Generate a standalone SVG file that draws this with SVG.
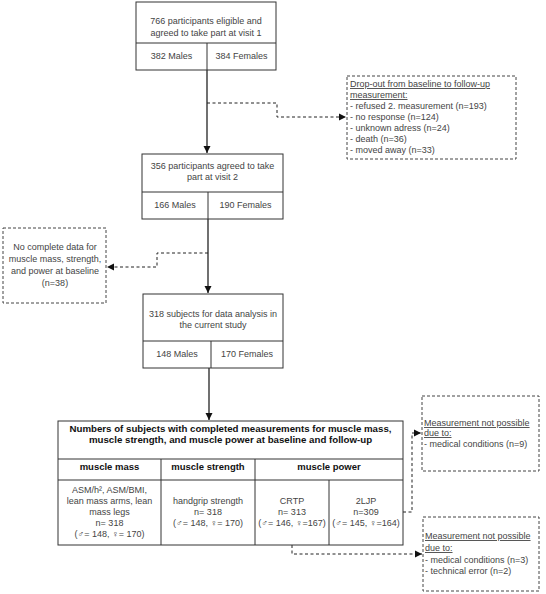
<svg xmlns="http://www.w3.org/2000/svg" width="546" height="594" viewBox="0 0 546 594">
<defs>
<marker id="ah" markerWidth="8" markerHeight="8" refX="7" refY="4" orient="auto" markerUnits="userSpaceOnUse">
<path d="M0,0.5 L7,4 L0,7.5 Z" fill="#111"/>
</marker>
<style>
.box{fill:#fff;stroke:#333;stroke-width:1}
.dbox{fill:#fff;stroke:#444;stroke-width:1;stroke-dasharray:3,2}
.ln{stroke:#333;stroke-width:1;fill:none}
.con{stroke:#111;stroke-width:1.2;fill:none}
.dcon{stroke:#222;stroke-width:1;fill:none;stroke-dasharray:3,2.5}
text{font-family:"Liberation Sans",Arial,sans-serif;font-size:9px;fill:#444}
.c{text-anchor:middle}
.b{font-weight:bold;fill:#111}
.h{font-size:9.7px}
.s{font-size:9.5px}
.u{text-decoration:underline}
</style>
</defs>
<rect width="546" height="594" fill="#fff"/>

<g id="connectors">
<line class="con" x1="207" y1="70" x2="207" y2="153" marker-end="url(#ah)"/>
<polyline class="dcon" points="207,103 277,103 277,117 346,117" marker-end="url(#ah)"/>
<line class="con" x1="208" y1="219" x2="208" y2="293" marker-end="url(#ah)"/>
<polyline class="dcon" points="208,253 157,253 157,267 107,267" marker-end="url(#ah)"/>
<line class="con" x1="209" y1="368" x2="209" y2="420" marker-end="url(#ah)"/>
<polyline class="dcon" points="403,512 412,512 412,433 421,433" marker-end="url(#ah)"/>
<polyline class="dcon" points="292,545 292,554 422,554" marker-end="url(#ah)"/>
</g>

<g id="visit1">
<rect class="box" x="136" y="2" width="140" height="68"/>
<line class="ln" x1="136" y1="43" x2="276" y2="43"/>
<line class="ln" x1="207" y1="43" x2="207" y2="70"/>
<text class="c" x="206" y="23.5">766 participants eligible and</text>
<text class="c" x="206" y="35.5">agreed to take part at visit 1</text>
<text class="c" x="171.5" y="58.5">382 Males</text>
<text class="c" x="241.5" y="58.5">384 Females</text>
</g>

<g id="dropout">
<rect class="dbox" x="347" y="76" width="169" height="83"/>
<text class="u" x="350" y="87">Drop-out from baseline to follow-up</text>
<text class="u" x="350" y="98">measurement:</text>
<text x="350" y="109">- refused 2. measurement (n=193)</text>
<text x="350" y="120">- no response (n=124)</text>
<text x="350" y="131">- unknown adress (n=24)</text>
<text x="350" y="142">- death (n=36)</text>
<text x="350" y="153">- moved away (n=33)</text>
</g>

<g id="visit2">
<rect class="box" x="142" y="154" width="141" height="65"/>
<line class="ln" x1="142" y1="192" x2="283" y2="192"/>
<line class="ln" x1="208" y1="192" x2="208" y2="219"/>
<text class="c" x="212.5" y="168.5">356 participants agreed to take</text>
<text class="c" x="212.5" y="179.5">part at visit 2</text>
<text class="c" x="175" y="207.5">166 Males</text>
<text class="c" x="245.5" y="207.5">190 Females</text>
</g>

<g id="nodata">
<rect class="dbox" x="3" y="228" width="103" height="75"/>
<text class="c" x="55" y="250">No complete data for</text>
<text class="c" x="55" y="262">muscle mass, strength,</text>
<text class="c" x="55" y="274">and power at baseline</text>
<text class="c" x="55" y="286">(n=38)</text>
</g>

<g id="analysis">
<rect class="box" x="143" y="294" width="140" height="74"/>
<line class="ln" x1="143" y1="341" x2="283" y2="341"/>
<line class="ln" x1="211" y1="341" x2="211" y2="368"/>
<text class="c" x="213" y="316.5">318 subjects for data analysis in</text>
<text class="c" x="213" y="327.5">the current study</text>
<text class="c" x="177" y="356.5">148 Males</text>
<text class="c" x="247" y="356.5">170 Females</text>
</g>

<g id="measurements">
<rect class="box" x="58" y="421" width="345" height="124"/>
<line class="ln" x1="58" y1="459" x2="403" y2="459"/>
<line class="ln" x1="58" y1="480" x2="403" y2="480"/>
<line class="ln" x1="161" y1="459" x2="161" y2="545"/>
<line class="ln" x1="255" y1="459" x2="255" y2="545"/>
<line class="ln" x1="329" y1="480" x2="329" y2="545"/>
<text class="c b h" x="230.5" y="431.5">Numbers of subjects with completed measurements for muscle mass,</text>
<text class="c b h" x="230.5" y="442.5">muscle strength, and muscle power at baseline and follow-up</text>
<text class="c b s" x="109.5" y="469.5">muscle mass</text>
<text class="c b s" x="208" y="469.5">muscle strength</text>
<text class="c b s" x="329" y="469.5">muscle power</text>
<text class="c" x="109.5" y="493">ASM/h², ASM/BMI,</text>
<text class="c" x="109.5" y="504">lean mass arms, lean</text>
<text class="c" x="109.5" y="515">mass legs</text>
<text class="c" x="109.5" y="526">n= 318</text>
<text class="c" x="109.5" y="537">(♂= 148, ♀= 170)</text>
<text class="c" x="208" y="504">handgrip strength</text>
<text class="c" x="208" y="515">n= 318</text>
<text class="c" x="208" y="526">(♂= 148, ♀= 170)</text>
<text class="c" x="292" y="504">CRTP</text>
<text class="c" x="292" y="515">n= 313</text>
<text class="c" x="292" y="526">(♂= 146, ♀=167)</text>
<text class="c" x="366" y="504">2LJP</text>
<text class="c" x="366" y="515">n=309</text>
<text class="c" x="366" y="526">(♂= 145, ♀=164)</text>
</g>

<g id="notpossible1">
<rect class="dbox" x="422" y="396" width="117" height="75"/>
<text class="u" x="424" y="426">Measurement not possible</text>
<text class="u" x="424" y="436">due to:</text>
<text x="424" y="447">- medical conditions (n=9)</text>
</g>

<g id="notpossible2">
<rect class="dbox" x="423" y="517" width="116" height="74"/>
<text class="u" x="425" y="539">Measurement not possible</text>
<text class="u" x="425" y="551">due to:</text>
<text x="425" y="563">- medical conditions (n=3)</text>
<text x="425" y="574">- technical error (n=2)</text>
</g>
</svg>
